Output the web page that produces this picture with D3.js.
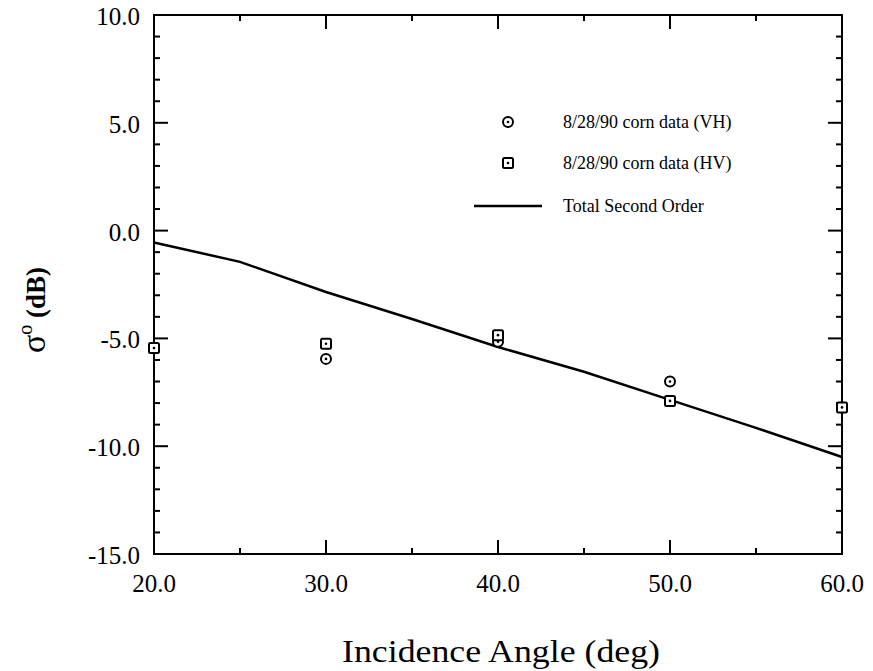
<!DOCTYPE html>
<html>
<head>
<meta charset="utf-8">
<script src="https://cdn.jsdelivr.net/npm/d3@7"></script>
<style>
  body { margin: 0; background: #fff; }
  svg text { font-family: 'Liberation Serif', 'Times New Roman', Times, 'DejaVu Serif', serif; }
</style>
</head>
<body>
<svg id="chart" width="873" height="671"></svg>
<script>
// data
const angles = [20, 30, 40, 50, 60];
const vhData = [-5.45, -5.95, -5.15, -7.0, -8.2];
const hvData = [-5.45, -5.25, -4.85, -7.9, -8.2];

const modelAngles = [20, 25, 30, 35, 40, 45, 50, 55, 60];
const modelValues = [-0.55, -1.45, -2.85, -4.1, -5.4, -6.55, -7.85, -9.15, -10.5];

const xTicks = [20, 30, 40, 50, 60];
const yTicks = [10, 5, 0, -5, -10, -15];

const legendLabels = ["8/28/90 corn data (VH)", "8/28/90 corn data (HV)", "Total Second Order"];

const margin = { left: 154, right: 31, top: 15, bottom: 117 };
const width = 873, height = 671;

const svg = d3.select("#chart");

const x = d3.scaleLinear().domain([20, 60]).range([margin.left, width - margin.right]);
const y = d3.scaleLinear().domain([-15, 10]).range([height - margin.bottom, margin.top]);

// frame
svg.append("rect")
  .attr("x", x(20)).attr("y", y(10))
  .attr("width", x(60) - x(20)).attr("height", y(-15) - y(10))
  .attr("fill", "none").attr("stroke", "#000").attr("stroke-width", 2);

// ticks, inward on all sides
function drawTicks() {
  const g = svg.append("g").attr("stroke", "#000").attr("stroke-width", 2);
  // y ticks every 1, major every 5
  d3.range(-15, 10.01, 1).forEach(v => {
    const len = v % 5 === 0 ? 14 : 6;
    g.append("line").attr("x1", x(20)).attr("x2", x(20) + len).attr("y1", y(v)).attr("y2", y(v));
    g.append("line").attr("x1", x(60)).attr("x2", x(60) - len).attr("y1", y(v)).attr("y2", y(v));
  });
  // x ticks every 5, major every 10
  d3.range(20, 60.01, 5).forEach(v => {
    const len = v % 10 === 0 ? 14 : 6;
    g.append("line").attr("x1", x(v)).attr("x2", x(v)).attr("y1", y(-15)).attr("y2", y(-15) - len);
    g.append("line").attr("x1", x(v)).attr("x2", x(v)).attr("y1", y(10)).attr("y2", y(10) + len);
  });
}
drawTicks();

// tick labels
svg.append("g").selectAll("text")
  .data(xTicks).enter().append("text")
  .attr("x", d => x(d)).attr("y", 592)
  .attr("text-anchor", "middle").attr("font-size", 25)
  .text(d => d.toFixed(1));

svg.append("g").selectAll("text")
  .data(yTicks).enter().append("text")
  .attr("x", 140).attr("y", d => y(d) + 10)
  .attr("text-anchor", "end").attr("font-size", 25)
  .text(d => d.toFixed(1));

// axis titles
svg.append("text")
  .attr("x", (x(20) + x(60)) / 2 + 3).attr("y", 662)
  .attr("text-anchor", "middle").attr("font-size", 31)
  .attr("textLength", 318).attr("lengthAdjust", "spacingAndGlyphs")
  .text("Incidence Angle (deg)");

const yTitle = svg.append("text")
  .attr("transform", "translate(45, 310) rotate(-90)")
  .attr("text-anchor", "middle").attr("font-size", 27).attr("font-weight", "bold");
yTitle.append("tspan").attr("font-size", 34).attr("font-weight", "normal").text("σ");
yTitle.append("tspan").attr("dy", -13).attr("font-size", 20).attr("font-weight", "normal").text("o");
yTitle.append("tspan").attr("dy", 13).text(" (dB)");

// model line
const line = d3.line().x((d, i) => x(modelAngles[i])).y(d => y(d));
svg.append("path")
  .datum(modelValues)
  .attr("d", line)
  .attr("fill", "none").attr("stroke", "#000").attr("stroke-width", 2.5);

// markers
function circleMarker(g, cx, cy) {
  g.append("circle").attr("cx", cx).attr("cy", cy).attr("r", 5)
    .attr("fill", "#fff").attr("stroke", "#000").attr("stroke-width", 2);
  g.append("circle").attr("cx", cx).attr("cy", cy).attr("r", 1.3).attr("fill", "#000");
}
function squareMarker(g, cx, cy) {
  g.append("rect").attr("x", cx - 5).attr("y", cy - 5).attr("width", 10).attr("height", 10)
    .attr("rx", 1.5)
    .attr("fill", "#fff").attr("stroke", "#000").attr("stroke-width", 2);
  g.append("circle").attr("cx", cx).attr("cy", cy).attr("r", 1.3).attr("fill", "#000");
}

const pts = svg.append("g");
angles.forEach((a, i) => circleMarker(pts, x(a), y(vhData[i])));
angles.forEach((a, i) => squareMarker(pts, x(a), y(hvData[i])));

// legend
const legend = svg.append("g");
const legendY = [122, 163, 206];
circleMarker(legend, 508, legendY[0]);
squareMarker(legend, 508, legendY[1]);
legend.append("line").attr("x1", 474).attr("x2", 542).attr("y1", legendY[2]).attr("y2", legendY[2])
  .attr("stroke", "#000").attr("stroke-width", 2.5);
legend.selectAll("text")
  .data(legendLabels).enter().append("text")
  .attr("x", 563).attr("y", (d, i) => legendY[i] + 6)
  .attr("font-size", 18)
  .text(d => d);
</script>
</body>
</html>
